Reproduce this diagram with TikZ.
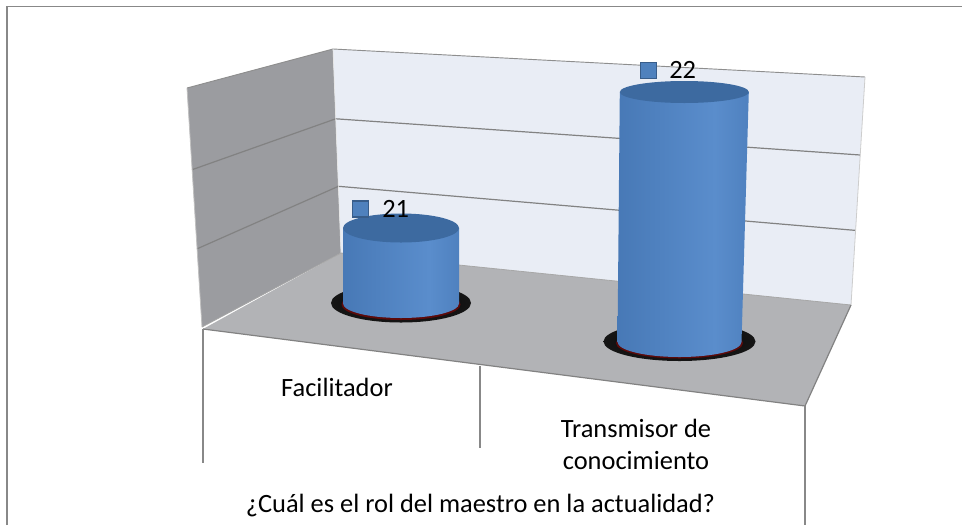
\documentclass[tikz,border=0pt]{standalone}
\usepackage{fontspec}
\setmainfont{Carlito}
\definecolor{framegray}{HTML}{888888}
\definecolor{leftwall}{HTML}{9B9CA0}
\definecolor{backwall}{HTML}{E9EDF5}
\definecolor{floorgray}{HTML}{B2B3B6}
\definecolor{gridgray}{HTML}{828282}
\definecolor{cylA}{HTML}{2F5A8A}
\definecolor{cylB}{HTML}{4475B2}
\definecolor{cylC}{HTML}{5A8DCC}
\definecolor{topblue}{HTML}{3D6AA0}
\definecolor{markfill}{HTML}{4F81BD}
\definecolor{markdraw}{HTML}{385D8A}
\definecolor{ringred}{HTML}{5C0A0A}
\pgfdeclarehorizontalshading{cylshade}{100bp}{color(0bp)=(cylA); color(18bp)=(cylB); color(62bp)=(cylC); color(88bp)=(cylB); color(100bp)=(cylA)}
\pgfdeclareradialshading{cylshadow}{\pgfpoint{0bp}{0bp}}{color(0bp)=(black); color(36bp)=(black!88); color(41bp)=(black!55!floorgray); color(46bp)=(black!15!floorgray); color(50bp)=(floorgray)}
\tikzset{
  lbl/.style={font=\fontsize{19.8pt}{24pt}\selectfont, text=black, inner sep=0pt},
  catline/.style={draw=framegray, line width=1.1pt},
  gridline/.style={draw=gridgray, line width=0.9pt},
  marker/.style={fill=markfill, draw=markdraw, line width=0.8pt}
}
\begin{document}
\begin{tikzpicture}[x=0.75pt,y=-0.75pt]
\useasboundingbox (0,0) rectangle (962,525);
% frame
\draw[framegray, line width=1.5pt] (7,525) -- (7,6.5);
\draw[framegray, line width=0.9pt] (6.3,6.5) -- (962,6.5);
% walls
\fill[leftwall] (187,88) -- (333,49) -- (341,253) -- (202,327) -- cycle;
\fill[backwall] (333,49) -- (865,77) -- (851,305) -- (341,253) -- cycle;
% gridlines
\draw[gridline] (192.1,169.7) -- (335.7,118.8) -- (860.2,155);
\draw[gridline] (197.1,248.8) -- (338.4,186.3) -- (855.6,230.4);
\draw[draw=gridgray!90, line width=0.7pt] (187,88) -- (333,49) -- (865,77);
\draw[draw=gridgray!50, line width=0.6pt] (187,88) -- (202,327);
\draw[draw=gridgray!40, line width=0.6pt] (865,77) -- (851,305);
\draw[draw=white!80!gridgray, line width=0.5pt] (333,49) -- (341,253);
% floor
\fill[floorgray] (341,253) -- (851,305) -- (805,406) -- (203,329) -- cycle;
\draw[draw=gridgray!70, line width=0.6pt] (202,327) -- (341,253) -- (851,305);
\draw[draw=gridgray, line width=0.9pt] (203,329) -- (805,406) -- (851,305);
% front panel lines
\draw[catline] (203,329) -- (203,463);
\draw[catline] (480,366) -- (480,448);
\draw[catline] (805,406) -- (805,525);
% shadows
\shade[shading=cylshadow] (401,303) ellipse [x radius=70, y radius=19.5];
\shade[shading=cylshadow] (679.5,341.5) ellipse [x radius=76, y radius=19.5];
\fill[ringred] (401,304.5) ellipse [x radius=59.5, y radius=15.5];
\fill[ringred] (679.5,343) ellipse [x radius=63.5, y radius=15.5];
% cylinder 1
\shade[shading=cylshade] (343,228) -- (343,303.5) arc[start angle=180, end angle=0, x radius=58, y radius=14.5] -- (459,228) -- cycle;
\fill[topblue] (401,228) ellipse [x radius=58, y radius=14.5];
% cylinder 2
\shade[shading=cylshade] (619.8,92) -- (617.5,342) arc[start angle=180, end angle=0, x radius=62, y radius=15] -- (748.8,92) -- cycle;
\fill[topblue] (684.3,92) ellipse [x radius=64.5, y radius=11];
% data labels
\draw[marker] (352.5,201) rectangle (368.5,217);
\node[lbl, anchor=base west] (v21) at (382,217) {21};
\draw[marker] (640.5,62.5) rectangle (656.5,78.5);
\node[lbl, anchor=base west] (v22) at (669,78.5) {22};
% category labels
\node[lbl, anchor=base] (cat1) at (337,396) {Facilitador};
\node[lbl, anchor=base] (cat2a) at (636,437) {Transmisor de};
\node[lbl, anchor=base] (cat2b) at (636,469) {conocimiento};
\node[lbl, anchor=base] (title) at (480.5,512) {¿Cuál es el rol del maestro en la actualidad?};
\end{tikzpicture}
\end{document}
